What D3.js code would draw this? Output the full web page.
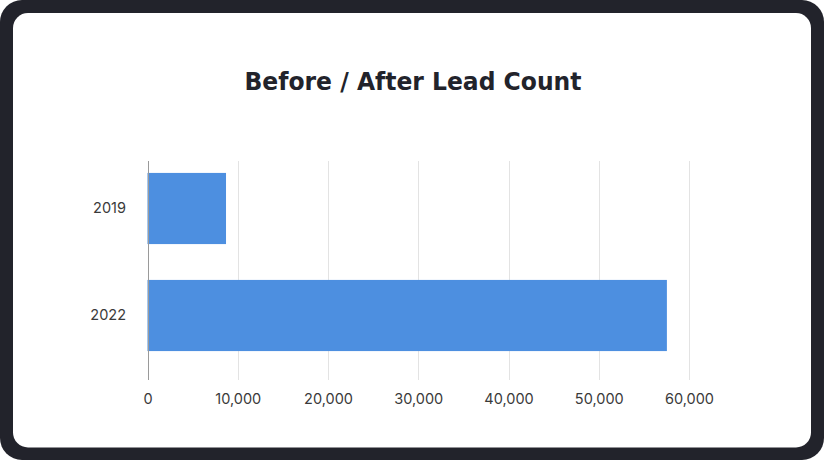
<!DOCTYPE html>
<html>
<head>
<meta charset="utf-8">
<script src="https://cdn.jsdelivr.net/npm/d3@7"></script>
<style>
  html, body { margin: 0; padding: 0; background: #ffffff; }
  svg { display: block; }
</style>
</head>
<body>
<svg id="chart" width="824" height="460"></svg>
<script>
const title = "Before / After Lead Count";
const categories = ["2019", "2022"];
const leadCounts = [8700, 57550];
const xTicks = [0, 10000, 20000, 30000, 40000, 50000, 60000];

const W = 824, H = 460;
const svg = d3.select("#chart");

// Frame
svg.append("rect").attr("x", 0).attr("y", 0).attr("width", W).attr("height", H)
  .attr("rx", 22).attr("fill", "#22232b");
svg.append("rect").attr("x", 13).attr("y", 13).attr("width", W - 26).attr("height", H - 25.5)
  .attr("rx", 15).attr("fill", "#ffffff");

// Title
svg.append("text")
  .attr("x", 413).attr("y", 89.5)
  .attr("text-anchor", "middle")
  .attr("font-family", "'DejaVu Sans Condensed', 'DejaVu Sans', sans-serif")
  .attr("font-stretch", "condensed")
  .attr("font-weight", 700)
  .attr("font-size", 25.5)
  .attr("fill", "#22232b")
  .attr("textLength", 337)
  .attr("lengthAdjust", "spacingAndGlyphs")
  .text(title);

// Scales
const x = d3.scaleLinear().domain([0, 60000]).range([147.5, 689]);
const y = d3.scaleBand().domain(categories).range([155, 369])
  .paddingInner(0.335).paddingOuter(0.1675);
const gridTop = 161, gridBottom = 380;

// Gridlines
svg.append("g").selectAll("line").data(xTicks.filter(d => d > 0)).join("line")
  .attr("x1", d => Math.round(x(d)) + 0.5).attr("x2", d => Math.round(x(d)) + 0.5)
  .attr("y1", gridTop).attr("y2", gridBottom)
  .attr("stroke", "#e3e3e3").attr("stroke-width", 1);

// Bars
svg.append("g").selectAll("rect").data(categories).join("rect")
  .attr("x", x(0))
  .attr("y", d => y(d))
  .attr("width", (d, i) => x(leadCounts[i]) - x(0))
  .attr("height", y.bandwidth())
  .attr("fill", "#4d8fe0");

// Baseline
svg.append("line")
  .attr("x1", Math.round(x(0)) + 0.5).attr("x2", Math.round(x(0)) + 0.5)
  .attr("y1", gridTop).attr("y2", gridBottom)
  .attr("stroke", "#9a9a9a").attr("stroke-width", 1);

// X axis labels
const xAxis = d3.axisBottom(x).tickValues(xTicks).tickSize(0).tickPadding(0)
  .tickFormat(d3.format(","));
const gx = svg.append("g").attr("transform", "translate(0,390)").call(xAxis);
gx.select(".domain").remove();
gx.selectAll("text")
  .attr("dy", "0.95em")
  .attr("font-family", "Inter, Roboto, sans-serif")
  .attr("font-size", 14.5)
  .attr("fill", "#3a3a3a");

// Y axis labels
const yAxis = d3.axisLeft(y).tickSize(0).tickPadding(0);
const gy = svg.append("g").attr("transform", "translate(126,0)").call(yAxis);
gy.select(".domain").remove();
gy.selectAll("text")
  .attr("font-family", "Inter, Roboto, sans-serif")
  .attr("font-size", 14.5)
  .attr("fill", "#3a3a3a");
</script>
</body>
</html>
